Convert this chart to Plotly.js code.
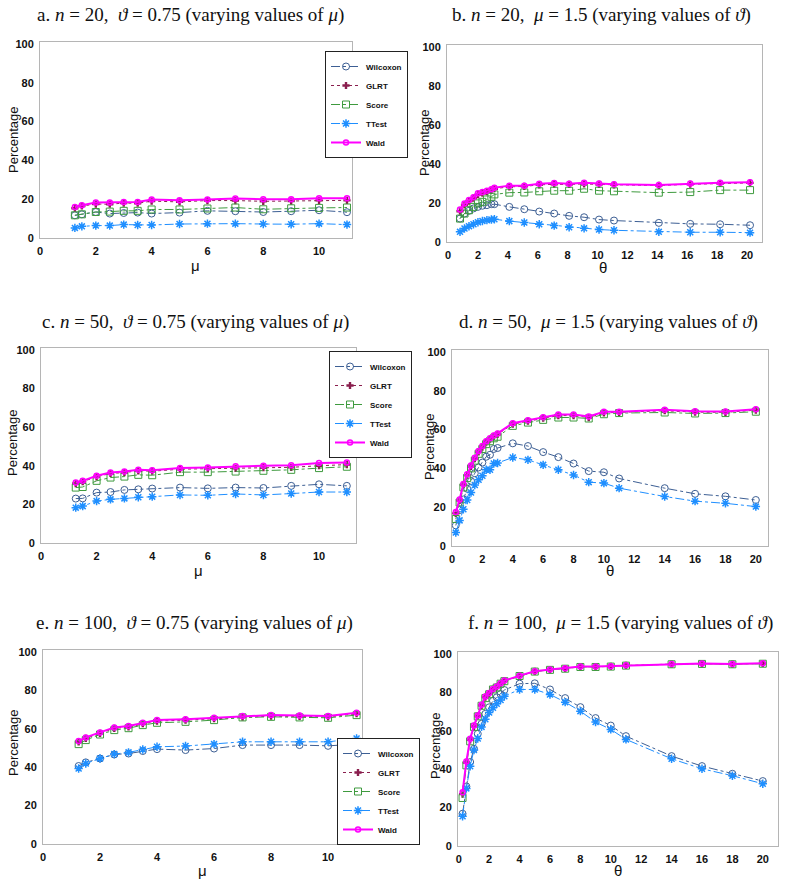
<!DOCTYPE html>
<html>
<head>
<meta charset="utf-8">
<script src="https://cdn.plot.ly/plotly-3.0.1.min.js"></script>
<style>
  html, body { margin: 0; padding: 0; background: #fff; }
  #chart { width: 800px; height: 881px; }
</style>
</head>
<body>
<div id="chart"></div>
<script>
// x values
const mu = [1.25, 1.5, 2, 2.5, 3, 3.5, 4, 5, 6, 7, 8, 9, 10, 11];
const thetaB = [0.8, 1.1, 1.4, 1.7, 2.0, 2.3, 2.6, 2.9, 3.1, 4.1, 5.1, 6.1, 7.1, 8.1, 9.1, 10.1, 11.1, 14.1, 16.2, 18.2, 20.2];
const thetaDF = [0.25, 0.5, 0.75, 1, 1.25, 1.5, 1.75, 2, 2.25, 2.5, 2.75, 3, 4, 5, 6, 7, 8, 9, 10, 11, 14, 16, 18, 20];

// a. n = 20, theta = 0.75
const aWilcoxon = [11.7, 12.2, 13.4, 12.6, 12.9, 13.1, 12.6, 13.1, 14.0, 13.8, 13.4, 13.8, 14.3, 13.3];
const aGLRT = [15.3, 16.5, 17.5, 17.4, 18.0, 17.9, 19.0, 18.6, 19.3, 19.3, 18.9, 19.0, 19.4, 19.4];
const aScore = [11.7, 12.2, 13.4, 13.6, 14.0, 14.0, 14.7, 14.7, 15.2, 15.7, 14.8, 15.3, 15.5, 15.7];
const aTTest = [5.2, 6.0, 6.4, 6.4, 6.9, 6.7, 6.7, 7.2, 7.4, 7.4, 7.2, 7.1, 7.4, 6.9];
const aWald = [16.0, 16.9, 18.3, 18.3, 18.6, 18.6, 19.8, 19.5, 19.9, 20.3, 20.0, 20.0, 20.5, 20.5];

// b. n = 20, mu = 1.5
const bWilcoxon = [12.0, 14.6, 16.0, 17.2, 18.0, 18.6, 18.9, 19.4, 19.4, 18.0, 16.8, 15.6, 14.6, 13.4, 12.7, 11.5, 11.0, 9.8, 9.3, 9.1, 8.6];
const bGLRT = [15.8, 19.0, 21.0, 22.5, 24.3, 25.0, 25.8, 26.5, 27.3, 28.3, 28.5, 29.3, 29.6, 29.5, 29.8, 29.5, 29.3, 29.0, 29.6, 30.0, 30.3];
const bScore = [12.0, 14.6, 16.3, 18.0, 19.8, 20.6, 21.8, 23.2, 24.4, 25.3, 25.4, 26.0, 26.3, 26.3, 27.3, 26.3, 26.0, 25.3, 25.6, 26.6, 26.6];
const bTTest = [5.2, 6.9, 8.1, 9.1, 10.1, 10.8, 11.2, 11.5, 11.7, 10.7, 10.0, 9.1, 8.4, 7.6, 7.0, 6.4, 6.0, 5.2, 5.0, 5.0, 4.8];
const bWald = [16.7, 19.8, 21.5, 23.0, 25.0, 25.6, 26.3, 27.0, 27.8, 28.9, 28.9, 29.9, 30.2, 29.9, 30.4, 30.0, 29.6, 29.2, 30.0, 30.4, 30.6];

// c. n = 50, theta = 0.75
const cWilcoxon = [23.0, 23.1, 26.1, 26.4, 27.5, 27.8, 28.2, 28.7, 28.3, 28.7, 28.5, 29.6, 30.4, 29.6];
const cGLRT = [30.8, 31.8, 34.3, 36.0, 36.5, 37.4, 37.2, 38.2, 38.5, 38.7, 39.0, 39.2, 40.0, 40.6];
const cScore = [28.7, 29.0, 32.2, 33.9, 34.4, 35.3, 35.1, 36.7, 36.7, 37.0, 37.4, 37.9, 38.8, 39.5];
const cTTest = [18.3, 19.1, 21.7, 22.6, 23.1, 23.7, 24.0, 24.9, 24.7, 25.4, 24.9, 25.6, 26.4, 26.4];
const cWald = [31.3, 32.2, 34.8, 36.5, 37.0, 37.9, 37.7, 38.8, 39.1, 39.7, 40.0, 40.3, 41.4, 41.7];

// d. n = 50, mu = 1.5
const dWilcoxon = [10.6, 18.5, 24, 29.5, 33.5, 37.5, 40.5, 43, 46, 47, 50, 50.5, 52.9, 51.5, 48.4, 45.8, 42.5, 38.6, 38, 34.8, 29.8, 26.9, 25.6, 23.7];
const dGLRT = [16.8, 23.5, 31.5, 36.5, 41, 45, 48.5, 51, 53.5, 55, 56.5, 57.5, 62.8, 64.3, 65.9, 67.2, 67.2, 66.2, 68.6, 68.8, 69.7, 69.0, 68.9, 70.0];
const dScore = [13.9, 22.4, 30.2, 35, 40, 44, 47.5, 50, 52.5, 54, 55.5, 56.3, 61.9, 63.6, 65, 66.2, 66.2, 65.7, 67.9, 68.5, 68.8, 68.3, 68.5, 69.2];
const dTTest = [6.9, 13.2, 18.9, 23.7, 27.6, 31.4, 34.1, 36.2, 39.3, 39.3, 42.5, 42.8, 45.6, 44.4, 41.8, 39.3, 36.6, 32.9, 32.4, 29.8, 25.5, 23.1, 22.0, 20.3];
const dWald = [17.5, 24, 32, 37, 41.5, 45.5, 49, 51.5, 54, 55.5, 57, 58, 63.3, 64.8, 66.4, 67.8, 67.8, 66.7, 69.2, 69.2, 70.2, 69.5, 69.3, 70.5];

// e. n = 100, theta = 0.75
const eWilcoxon = [40.6, 42.5, 44.5, 46.6, 47.1, 48.4, 49.4, 48.9, 49.7, 51.5, 51.5, 51.5, 51.1, 52.0];
const eGLRT = [53.1, 55.0, 57.6, 60.2, 60.9, 62.6, 64.0, 64.5, 65.2, 66.1, 66.6, 66.4, 66.2, 67.8];
const eScore = [52.0, 54.1, 57.0, 59.3, 60.3, 61.9, 63.1, 63.6, 64.5, 65.9, 66.2, 65.9, 65.7, 67.1];
const eTTest = [39.3, 41.9, 44.5, 46.8, 47.7, 49.2, 50.6, 51.0, 52.0, 53.2, 53.2, 53.2, 53.2, 54.9];
const eWald = [53.6, 55.5, 58.1, 60.7, 61.4, 63.1, 64.5, 65.0, 65.7, 66.6, 67.1, 66.9, 66.7, 68.3];

// f. n = 100, mu = 1.5
const fWilcoxon = [16.8, 31, 43.7, 50.6, 58.4, 63.6, 68.8, 72.2, 75.6, 77.4, 79.1, 81.2, 84.5, 84.7, 81.5, 77, 72.3, 66.6, 62.7, 57.2, 46.8, 41.6, 37.6, 33.8];
const fGLRT = [27, 43.5, 55.3, 62.3, 67.7, 73.2, 77.5, 79.4, 81.6, 82.8, 84.6, 86, 88.6, 90.9, 91.8, 92.4, 93.3, 93.3, 93.5, 94.0, 94.7, 94.9, 94.7, 95.0];
const fScore = [25, 42, 54.5, 62, 67.5, 73, 77, 79, 81.5, 82.5, 84.5, 85.8, 88.5, 90.8, 91.7, 92.3, 93.2, 93.2, 93.4, 93.9, 94.6, 94.8, 94.6, 94.9];
const fTTest = [15.5, 30, 41.5, 50, 56, 62, 66, 69.5, 72, 74, 76, 78, 81.5, 81.5, 78.9, 74.9, 70.2, 64.5, 60.7, 55.5, 45.4, 40.2, 36.6, 32.4];
const fWald = [28, 44, 55.8, 62.7, 68, 73.5, 77.8, 79.7, 81.8, 83, 84.7, 86.1, 88.7, 91, 91.9, 92.5, 93.4, 93.4, 93.6, 94.1, 94.8, 95, 94.8, 95.1];

const W = 800, H = 881;
const px = (x) => x / W;
const py = (y) => 1 - y / H;

const styles = {
  Wilcoxon: { line: { color: '#3d5f94', width: 1, dash: 'dashdot' }, marker: { symbol: 'circle-open', size: 7, color: '#3d5f94', line: { width: 1 } } },
  GLRT: { line: { color: '#8a1f4e', width: 1, dash: 'dot' }, marker: { symbol: 'cross', size: 6, color: '#8a1f4e', line: { width: 0 } } },
  Score: { line: { color: '#3e9a3e', width: 1, dash: 'dashdot' }, marker: { symbol: 'square-open', size: 7, color: '#3e9a3e', line: { width: 1 } } },
  TTest: { line: { color: '#1f8fff', width: 1, dash: 'dashdot' }, marker: { symbol: 'asterisk-open', size: 7, color: '#1f8fff', line: { width: 1.5, color: '#1f8fff' } } },
  Wald: { line: { color: '#ff00ff', width: 2, dash: 'solid' }, marker: { symbol: 'circle-open', size: 5, color: '#ff00ff', line: { width: 1.5 } } }
};

function panel(n, x, series, legend) {
  const names = ['Wilcoxon', 'GLRT', 'Score', 'TTest', 'Wald'];
  return names.map((name, i) => ({
    x: x,
    y: series[i],
    name: name,
    type: 'scatter',
    mode: 'lines+markers',
    xaxis: 'x' + (n === 1 ? '' : n),
    yaxis: 'y' + (n === 1 ? '' : n),
    line: styles[name].line,
    marker: styles[name].marker,
    showlegend: !!legend,
    legend: legend || 'legend'
  }));
}

const traces = [
  ...panel(1, mu, [aWilcoxon, aGLRT, aScore, aTTest, aWald], 'legend'),
  ...panel(2, thetaB, [bWilcoxon, bGLRT, bScore, bTTest, bWald], null),
  ...panel(3, mu, [cWilcoxon, cGLRT, cScore, cTTest, cWald], 'legend2'),
  ...panel(4, thetaDF, [dWilcoxon, dGLRT, dScore, dTTest, dWald], null),
  ...panel(5, mu, [eWilcoxon, eGLRT, eScore, eTTest, eWald], 'legend3'),
  ...panel(6, thetaDF, [fWilcoxon, fGLRT, fScore, fTTest, fWald], null)
];

const tickFont = { family: 'Liberation Sans, Arial, sans-serif', size: 11, weight: 'bold', color: '#111' };
const frame = { showline: true, linecolor: '#b5b5b5', linewidth: 1, mirror: true, showgrid: false, zeroline: false, ticks: '', tickfont: tickFont, fixedrange: true };

function xa(left, right, range, anchor) {
  return { ...frame, domain: [px(left), px(right)], range: range, dtick: 2, tick0: 0, anchor: anchor, ticklabelstandoff: 3 };
}
function ya(bottom, top, anchor) {
  return { ...frame, domain: [py(bottom), py(top)], range: [0, 101], dtick: 20, tick0: 0, anchor: anchor, ticklabelstandoff: 3 };
}

const legendBase = {
  bgcolor: '#fff', bordercolor: '#222', borderwidth: 1,
  font: { family: 'Liberation Sans, Arial, sans-serif', size: 8, weight: 'bold', color: '#111' },
  itemwidth: 30, tracegroupgap: 0, xanchor: 'left'
};

const serif = { family: 'Liberation Serif, DejaVu Serif, serif', size: 19, color: '#111' };
const sans = { family: 'Liberation Sans, Arial, sans-serif', size: 13, color: '#111' };

const titles = [
  ['a. <i>n</i> = 20,  <i>ϑ</i> = 0.75 (varying values of <i>μ</i>)', 190, 15],
  ['b. <i>n</i> = 20,  <i>μ</i> = 1.5 (varying values of <i>ϑ</i>)', 601, 15],
  ['c. <i>n</i> = 50,  <i>ϑ</i> = 0.75 (varying values of <i>μ</i>)', 195, 322],
  ['d. <i>n</i> = 50,  <i>μ</i> = 1.5 (varying values of <i>ϑ</i>)', 608, 322],
  ['e. <i>n</i> = 100,  <i>ϑ</i> = 0.75 (varying values of <i>μ</i>)', 194, 623],
  ['f. <i>n</i> = 100,  <i>μ</i> = 1.5 (varying values of <i>ϑ</i>)', 620, 623]
];
const yTitles = [[13, 140], [425, 143], [13, 443], [430, 447], [13, 743], [435, 745]];
const xTitles = [['μ', 195, 265], ['θ', 603, 267], ['μ', 198, 570], ['θ', 610, 570], ['μ', 203, 870], ['θ', 618, 870]];

const annotations = [
  ...titles.map(([t, x, y]) => ({ text: t, x: px(x), y: py(y), xref: 'paper', yref: 'paper', showarrow: false, font: serif, xanchor: 'center', yanchor: 'middle' })),
  ...yTitles.map(([x, y]) => ({ text: 'Percentage', x: px(x), y: py(y), xref: 'paper', yref: 'paper', showarrow: false, font: sans, textangle: -90, xanchor: 'center', yanchor: 'middle' })),
  ...xTitles.map(([t, x, y]) => ({ text: t, x: px(x), y: py(y), xref: 'paper', yref: 'paper', showarrow: false, font: { ...sans, size: 15 }, xanchor: 'center', yanchor: 'middle' }))
];

const layout = {
  width: W, height: H,
  margin: { l: 0, r: 0, t: 0, b: 0 },
  paper_bgcolor: '#fff', plot_bgcolor: '#fff',
  xaxis: xa(40, 352, [0, 11.18], 'y'), yaxis: ya(238, 42, 'x'),
  xaxis2: xa(447, 762, [-0.07, 21.0], 'y2'), yaxis2: ya(242, 45, 'x2'),
  xaxis3: xa(41, 356, [0, 11.33], 'y3'), yaxis3: ya(543, 348, 'x3'),
  xaxis4: xa(452, 768, [0, 20.8], 'y4'), yaxis4: ya(546, 350, 'x4'),
  xaxis5: xa(43, 362, [0, 11.19], 'y5'), yaxis5: ya(844, 650, 'x5'),
  xaxis6: xa(458, 778, [-0.05, 21.0], 'y6'), yaxis6: ya(846, 652, 'x6'),
  legend: { ...legendBase, x: px(325), y: py(51), yanchor: 'top' },
  legend2: { ...legendBase, x: px(329), y: py(351), yanchor: 'top' },
  legend3: { ...legendBase, x: px(337), y: py(845), yanchor: 'bottom' },
  annotations: annotations,
  showlegend: true
};

Plotly.newPlot('chart', traces, layout, { displayModeBar: false, staticPlot: true });
</script>
</body>
</html>
